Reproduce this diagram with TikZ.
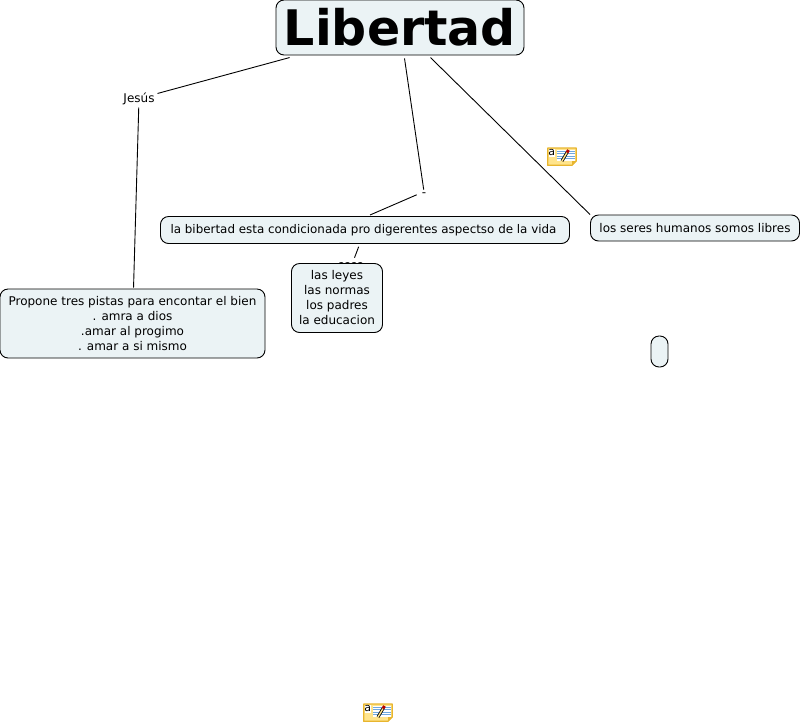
\documentclass[tikz,border=0pt]{standalone}
\usepackage{fontspec}
\setmainfont{DejaVu Sans}
\definecolor{boxfill}{HTML}{EBF3F5}
\definecolor{noteyellow}{HTML}{FFE48C}
\definecolor{noteedge}{HTML}{E8B52E}
\definecolor{noteblue}{HTML}{6FA8E0}
\tikzset{
  concept/.style={draw=black, fill=boxfill, rounded corners=8pt, line width=0.9pt, align=center, inner sep=0pt, font=\fontsize{12}{15}\selectfont},
  label/.style={align=center, inner sep=2pt, outer sep=1pt, font=\fontsize{12}{15}\selectfont},
  link/.style={line width=0.9pt}
}
\newcommand{\noteicon}[3]{
  \begin{scope}[shift={(#2,#3)}]
    \draw[noteedge, fill=noteyellow, line width=1.3pt, line join=round] (0.7,1) -- (29.3,1) -- (29.3,14) -- (25,18.3) -- (0.7,18.3) -- cycle;
    \fill[white] (1.5,2) rectangle (8,10);
    \fill[white] (9.5,2.5) rectangle (28,14);
    \foreach \y in {4,6.5,9,11.5}
      \draw[noteblue, line width=1pt] (9.5,\y) -- (28,\y);
    \fill[noteedge] (25,18.3) -- (29.3,14) -- (25,14) -- cycle;
    \node[inner sep=0pt, font=\fontsize{11}{11}\selectfont] (#1) at (4.7,5.5) {a};
    \draw[black, line width=3pt] (15,14) -- (20,5.5);
    \draw[noteyellow, line width=1.4pt] (15,14) -- (20,5.5);
    \draw[red!70!black, line width=3pt] (20,5.5) -- (21.5,3);
  \end{scope}
}
\begin{document}
\begin{tikzpicture}[x=1pt, y=-1pt]
  \useasboundingbox (0,0) rectangle (801,724);

  \node[label] (preguntas) at (351,267) {????};

  \node[concept, minimum width=248pt, minimum height=55pt, font=\fontsize{49}{49}\selectfont\bfseries] (libertad) at (400,27.5) {Libertad};
  \node[label] (jesus) at (139,98.5) {Jesús};
  \node[label, font=\fontsize{12}{12}\selectfont, inner sep=0pt] (guion) at (424,194.5) {-};
  \node[concept, minimum width=409pt, minimum height=27pt] (bibertad) at (365,230) {\fontsize{11.9}{15}\selectfont la bibertad esta condicionada pro digerentes aspectso de la vida\kern3pt};
  \node[concept, minimum width=209pt, minimum height=26pt] (seres) at (695,228) {los seres humanos somos libres};
  \node[concept, minimum width=265pt, minimum height=69pt] (pistas) at (132.5,323.5) {Propone tres pistas para encontar el bien\\. amra a dios\\.amar al progimo\\. amar a si mismo};
  \node[concept, minimum width=91pt, minimum height=69pt] (leyes) at (337,298) {las leyes\\las normas\\los padres\\la educacion};
  \node[concept, minimum width=17pt, minimum height=31pt] (vacio) at (659.5,351.5) {};

  \coordinate (bibertadtop) at (370,215);

  \draw[link, shorten <=8pt] (libertad) -- (jesus);
  \draw[link, shorten >=1pt] (jesus) -- (pistas);
  \draw[link, shorten <=3pt, shorten >=2pt] (libertad) -- (guion.north);
  \draw[link, shorten <=8pt] (guion.north) -- (bibertadtop);
  \draw[link, shorten <=3pt] (libertad) -- (seres.north west);
  \draw[link, shorten <=3pt, shorten >=2pt] (bibertad) -- (preguntas);

  \noteicon{notauno}{547}{147}
  \noteicon{notados}{363}{703}
\end{tikzpicture}
\end{document}
